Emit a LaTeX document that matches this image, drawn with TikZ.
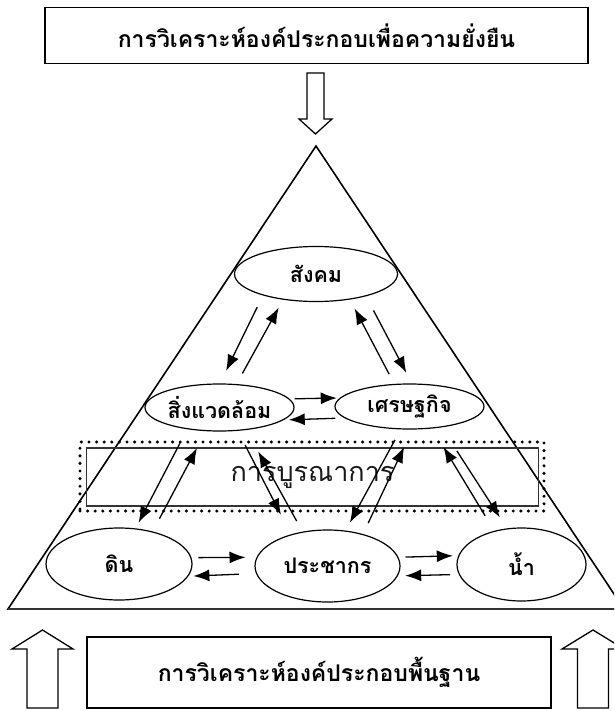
\documentclass[tikz,border=0pt]{standalone}
\usepackage{fontspec}
\newfontfamily\thaifont[Script=Thai]{Loma}
\usetikzlibrary{shapes.geometric,arrows.meta}
\newcommand\midtext[1]{\makebox[0pt]{#1}}
\tikzset{
    part/.style ={ellipse, draw, line width=1.2pt, inner sep=0pt,
                  font=\thaifont\bfseries\fontsize{21.5}{24}\selectfont},
    flow/.style ={draw, -{Latex[length=16pt,width=12pt]}, line width=1.3pt},
    titlebox/.style ={draw, line width=1.9pt, inner sep=0pt,
                  font=\thaifont\bfseries\fontsize{23}{26}\selectfont},
    hollow/.style ={draw, line width=1.3pt, line join=miter, fill=white}
}

\begin{document}
\begin{tikzpicture}[x=1pt,y=-1pt]
  \useasboundingbox (0,0) rectangle (614,711);
  \clip (0,0) rectangle (614,711);

  % pyramid
  \draw[line width=1.6pt, line join=miter] (316,146) -- (8,609) -- (624,609) -- cycle;
  \draw[line width=2pt, black!80] (8,609) -- (624,609);

  % band
  \node[draw, line width=3.4pt, dash pattern=on 0pt off 7.6pt, line cap=round,
        minimum width=464, minimum height=69] (band) at (312,476.5) {};
  \node[draw, line width=1.3pt, black!80, text=black!90, minimum width=452, minimum height=58,
        font=\thaifont\fontsize{27}{30}\selectfont] (integ) at (312.5,477) {การบูรณาการ};

  % titles
  \node[titlebox, minimum width=543, minimum height=56] (top) at (316.5,35.5)
        {การวิเคราะห์องค์ประกอบเพื่อความยั่งยืน};
  \node[titlebox, line width=1.6pt, minimum width=464, minimum height=71] (base) at (319,672.5)
        {การวิเคราะห์องค์ประกอบพื้นฐาน};

  % hollow arrows
  \path[hollow] (307,73) -- (324,73) -- (324,119) -- (332,119) -- (315.5,134)
        -- (299,119) -- (307,119) -- cycle;
  \path[hollow] (27,708) -- (27,649) -- (12,649) -- (42.5,630) -- (73,649)
        -- (58,649) -- (58,708) -- cycle;
  \path[hollow] (577.5,708) -- (577.5,649) -- (562,649) -- (593,630) -- (624,649)
        -- (608.5,649) -- (608.5,708) -- cycle;

  % components
  \node[part, minimum width=163, minimum height=55] (soc) at (316,274) {\midtext{สังคม}};
  \node[part, minimum width=149, minimum height=47] (env) at (219.5,407.5) {\midtext{สิ่งแวดล้อม}};
  \node[part, minimum width=149, minimum height=45] (eco) at (409.5,406.5) {\midtext{เศรษฐกิจ}};
  \node[part, minimum width=146, minimum height=72] (soil) at (119,564) {\midtext{ดิน}};
  \node[part, minimum width=145, minimum height=72] (pop) at (327.5,566) {\midtext{ประชากร}};
  \node[part, minimum width=129, minimum height=73] (water) at (521.5,564.5) {\midtext{น้ำ}};

  \path (soc.202) edge[flow, shorten <=13pt, shorten >=14pt] (env.89);
  \path (env.54) edge[flow, shorten <=12pt, shorten >=9pt] (soc.218.5);
  \path (eco.124) edge[flow, shorten <=11pt, shorten >=10pt] (soc.323);
  \path (soc.336) edge[flow, shorten <=16pt, shorten >=12pt] (eco.84);
  \path (env.7.4) edge[flow, shorten <=5pt, shorten >=3pt] (eco.173.3);
  \path (eco.190.5) edge[flow, shorten <=9pt, shorten >=5pt] (env.349.8);

  \path (env.214) edge[flow, shorten <=16pt, shorten >=6.5pt] (soil.65);
  \path (soil.44) edge[flow, shorten <=14.5pt, shorten >=19pt] (env.240);
  \path (env.308) edge[flow, shorten <=16pt, shorten >=22pt] (pop.139);
  \path (pop.126) edge[flow, shorten <=12pt, shorten >=24.5pt] (env.320.5);
  \path (eco.249.5) edge[flow, shorten <=12pt, shorten >=9pt] (pop.63.4);
  \path (pop.42.6) edge[flow, shorten <=12pt, shorten >=19pt] (eco.277.5);
  \path (water.129.6) edge[flow, shorten <=17.5pt, shorten >=21.5pt] (eco.316);
  \path (eco.327.4) edge[flow, shorten <=28pt, shorten >=13pt] (water.112.3);

  \path (soil.5.1) edge[flow, shorten <=7pt, shorten >=11pt] (pop.173.7);
  \path (pop.186.5) edge[flow, shorten <=17pt, shorten >=5pt] (soil.350.8);
  \path (pop.7.4) edge[flow, shorten <=7pt, shorten >=5.5pt] (water.172.9);
  \path (water.189.3) edge[flow, shorten <=8.6pt, shorten >=7.3pt] (pop.352.6);
\end{tikzpicture}
\end{document}
